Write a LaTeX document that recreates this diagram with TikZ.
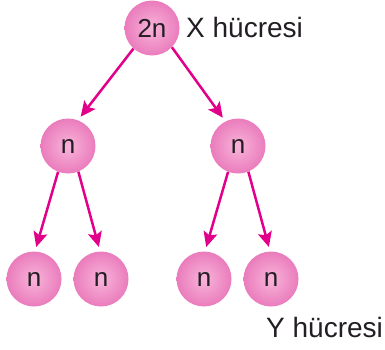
\documentclass[tikz,border=0pt]{standalone}
\usepackage{fontspec}
\setmainfont{Liberation Sans}
\usetikzlibrary{arrows.meta}
\definecolor{cellin}{RGB}{248,180,218}
\definecolor{cellout}{RGB}{234,124,188}
\definecolor{arr}{RGB}{226,0,138}
\definecolor{txt}{RGB}{35,30,35}
\begin{document}
\begin{tikzpicture}[x=1pt, y=-1pt]
	\tikzstyle{cell}=[circle, minimum size=55pt, inner sep=0pt, inner color=cellin, outer color=cellout, text=txt, font=\fontsize{26}{30}\selectfont]
	\tikzstyle{lbl}=[inner sep=0pt, anchor=base west, text=txt, font=\fontsize{28}{32}\selectfont]
	\tikzstyle{arw}=[draw=arr, line width=2.5pt, shorten >=4.5pt, -{Stealth[length=15pt, width=14pt, inset=3pt]}]
		\useasboundingbox (0,0) rectangle (385,349);
		\node[cell] (c) at (152, 28) {2n};
		
		\node[cell] (c0) at (68, 146) {n};
		\node[cell] (c1) at (238, 146) {n};
		
		\node[cell] (c00) at (34, 279) {n};
		\node[cell] (c01) at (101, 279) {n};
		\node[cell] (c10) at (204, 279) {n};
		\node[cell] (c11) at (271, 279) {n};
		
		\node[lbl] (x) at (186, 37) {X hücresi};
		\node[lbl] (y) at (266, 337) {Y hücresi};
		
		%========================================================================
		% Arrows
		\draw[arw] (c.228) to (c0.69);
		\draw[arw] (c.316) to (c1.117);
		
		\draw[arw] (c0.249) to (c00.88);
		\draw[arw] (c0.292) to (c01.92);
		\draw[arw] (c1.249) to (c10.88);
		\draw[arw] (c1.292) to (c11.92);
	\end{tikzpicture}
\end{document}
